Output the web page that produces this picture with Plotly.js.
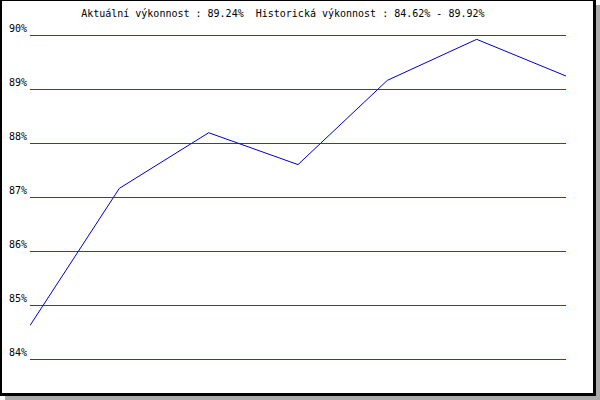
<!DOCTYPE html>
<html>
<head>
<meta charset="utf-8">
<script src="https://cdn.plot.ly/plotly-3.0.1.min.js"></script>
<style>
  html, body { margin: 0; padding: 0; background: #fff; }
  #wrap { position: relative; width: 600px; height: 400px; overflow: hidden; }
  #chart { position: absolute; left: 0; top: 0; width: 600px; height: 400px; }
  .frame { position: absolute; left: 0; top: 0; width: 596px; height: 396px; box-sizing: border-box;
           border-style: solid; border-color: #000; border-width: 1px 3px 3px 2px; pointer-events: none; }
  .shR { position: absolute; left: 596px; top: 5px; width: 4px; height: 395px; background: #aaaaaa; }
  .shB { position: absolute; left: 5px; top: 396px; width: 595px; height: 4px; background: #aaaaaa; }
</style>
</head>
<body>
<div id="wrap">
  <div id="chart"></div>
  <div class="frame"></div>
  <div class="shR"></div>
  <div class="shB"></div>
</div>
<script>
const periods = [1, 2, 3, 4, 5, 6, 7];
const performance = [84.62, 87.16, 88.19, 87.60, 89.16, 89.92, 89.24];
const yTicks = [84, 85, 86, 87, 88, 89, 90];
const yTickLabels = ['84%', '85%', '86%', '87%', '88%', '89%', '90%'];
const titleText = 'Aktuální výkonnost : 89.24%  Historická výkonnost : 84.62% - 89.92%';

const font = { family: 'DejaVu Sans Mono, Liberation Mono, monospace', size: 10, color: '#000' };
const pad = 2 / 54; // 2px of headroom so the edge gridlines are drawn

Plotly.newPlot('chart', [{
  x: periods,
  y: performance,
  type: 'scatter',
  mode: 'lines',
  line: { color: '#0000cc', width: 1 },
  hoverinfo: 'skip'
}], {
  width: 600,
  height: 400,
  margin: { l: 30, r: 34, t: 33, b: 39, pad: 0 },
  paper_bgcolor: '#fff',
  plot_bgcolor: '#fff',
  showlegend: false,
  font: font,
  title: { text: titleText, font: font, x: 283 / 600, xanchor: 'center', xref: 'paper', y: 1 - 13 / 400, yanchor: 'middle', yref: 'container' },
  xaxis: {
    range: [1, 7],
    showgrid: false, zeroline: false, showline: false,
    showticklabels: false, ticks: ''
  },
  yaxis: {
    range: [yTicks[0] - pad, yTicks[yTicks.length - 1] + pad],
    tickvals: yTicks,
    ticktext: yTickLabels,
    showgrid: true, gridcolor: '#dd0000', gridwidth: 1,
    zeroline: false, showline: false, ticks: '',
    tickfont: font,
    ticklabelshift: -7,
    ticklabelstandoff: 2
  }
}, { staticPlot: true, displayModeBar: false });
</script>
</body>
</html>
